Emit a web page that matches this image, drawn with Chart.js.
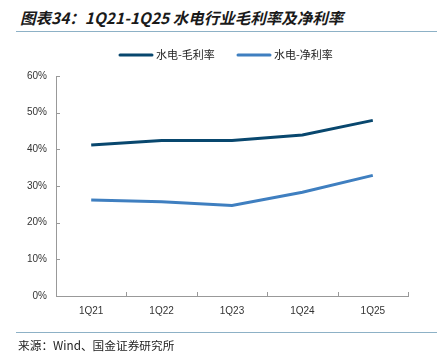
<!DOCTYPE html>
<html>
<head>
<meta charset="utf-8">
<script src="https://cdn.jsdelivr.net/npm/chart.js@4"></script>
<style>
  html, body { margin: 0; padding: 0; background: #fff; }
  body { width: 437px; height: 359px; position: relative; overflow: hidden; }
  .title {
    position: absolute; left: 20px; top: 6px;
    font-family: "Noto Sans CJK SC", sans-serif; font-size: 15.5px;
    font-style: italic; font-weight: bold; color: #1a1a1a; white-space: nowrap;
  }
  .rule { position: absolute; left: 16px; right: 0; height: 1px; background: #8db1c6; }
  .source {
    position: absolute; left: 18px; top: 336px;
    font-family: "Noto Sans CJK SC", sans-serif; font-size: 11.7px; color: #222;
  }
  #wrap { position: absolute; left: 0; top: 0; width: 437px; height: 359px; }
</style>
</head>
<body>
<div class="title">图表34：1Q21-1Q25 水电行业毛利率及净利率</div>
<div class="rule" style="top:31px"></div>
<div id="wrap"><canvas id="chart"></canvas></div>
<div class="rule" style="top:332px"></div>
<div class="source">来源：Wind、国金证券研究所</div>

<script>
// data
const quarters = ['1Q21', '1Q22', '1Q23', '1Q24', '1Q25'];
const grossMargin = [41.2, 42.4, 42.4, 43.9, 47.9];
const netMargin = [26.2, 25.7, 24.7, 28.3, 32.9];
const yTicks = [0, 10, 20, 30, 40, 50, 60];

// small ticks pointing into the plot, like the source chart
const innerTicks = {
    id: 'innerTicks',
    afterDraw(chart) {
        const ctx = chart.ctx;
        const x = chart.scales.x;
        const y = chart.scales.y;
        ctx.save();
        ctx.strokeStyle = '#999';
        ctx.lineWidth = 1;
        ctx.beginPath();
        y.ticks.forEach(t => {
            const py = Math.round(y.getPixelForValue(t.value)) + 0.5;
            ctx.moveTo(x.left, py);
            ctx.lineTo(x.left + 4, py);
        });
        const step = (x.right - x.left) / quarters.length;
        for (let i = 1; i <= quarters.length; i++) {
            const px = Math.round(x.getPixelForValue(i - 1) + step / 2) + 0.5;
            ctx.moveTo(px, y.bottom);
            ctx.lineTo(px, y.bottom - 4);
        }
        ctx.stroke();
        ctx.restore();
    }
};

// legend row above the plot
const lineLegend = {
    id: 'lineLegend',
    afterDraw(chart) {
        const ctx = chart.ctx;
        const starts = [120, 238];
        const ly = 55;
        ctx.save();
        ctx.font = '11px "Noto Sans CJK SC", sans-serif';
        ctx.textBaseline = 'middle';
        chart.data.datasets.forEach((ds, i) => {
            const x0 = starts[i];
            ctx.strokeStyle = ds.borderColor;
            ctx.lineWidth = 3;
            ctx.lineCap = 'round';
            ctx.beginPath();
            ctx.moveTo(x0, ly);
            ctx.lineTo(x0 + 32, ly);
            ctx.stroke();
            ctx.fillStyle = '#222';
            ctx.fillText(ds.label, x0 + 36, ly);
        });
        ctx.restore();
    }
};

const ctx = document.getElementById('chart').getContext('2d');
const chart = new Chart(ctx, {
    type: 'line',
    data: {
        labels: quarters,
        datasets: [
            {
                label: '水电-毛利率',
                data: grossMargin,
                borderColor: '#08476e',
                backgroundColor: '#08476e',
                borderWidth: 3,
                pointRadius: 0,
                tension: 0
            },
            {
                label: '水电-净利率',
                data: netMargin,
                borderColor: '#3f7fc0',
                backgroundColor: '#3f7fc0',
                borderWidth: 3,
                pointRadius: 0,
                tension: 0
            }
        ]
    },
    options: {
        responsive: true,
        maintainAspectRatio: false,
        animation: false,
        layout: {
            padding: { left: 14, right: 29, top: 76, bottom: 33 }
        },
        plugins: {
            legend: { display: false },
            tooltip: { enabled: false }
        },
        scales: {
            x: {
                offset: true,
                grid: { display: false },
                border: { display: true, color: '#999', width: 1 },
                ticks: {
                    color: '#333',
                    padding: 1,
                    font: { family: '"Liberation Sans", Arial, sans-serif', size: 10 }
                },
                afterFit(scale) { scale.height = 30; }
            },
            y: {
                min: 0,
                max: 60,
                afterBuildTicks(scale) {
                    scale.ticks = yTicks.map(v => ({ value: v }));
                },
                grid: { display: false, drawTicks: false },
                border: { display: true, color: '#999', width: 1 },
                ticks: {
                    color: '#333',
                    padding: 9,
                    font: { family: '"Liberation Sans", Arial, sans-serif', size: 10 },
                    callback: v => v + '%'
                },
                afterFit(scale) { scale.width = 42; }
            }
        }
    },
    plugins: [innerTicks, lineLegend]
});
</script>
</body>
</html>
